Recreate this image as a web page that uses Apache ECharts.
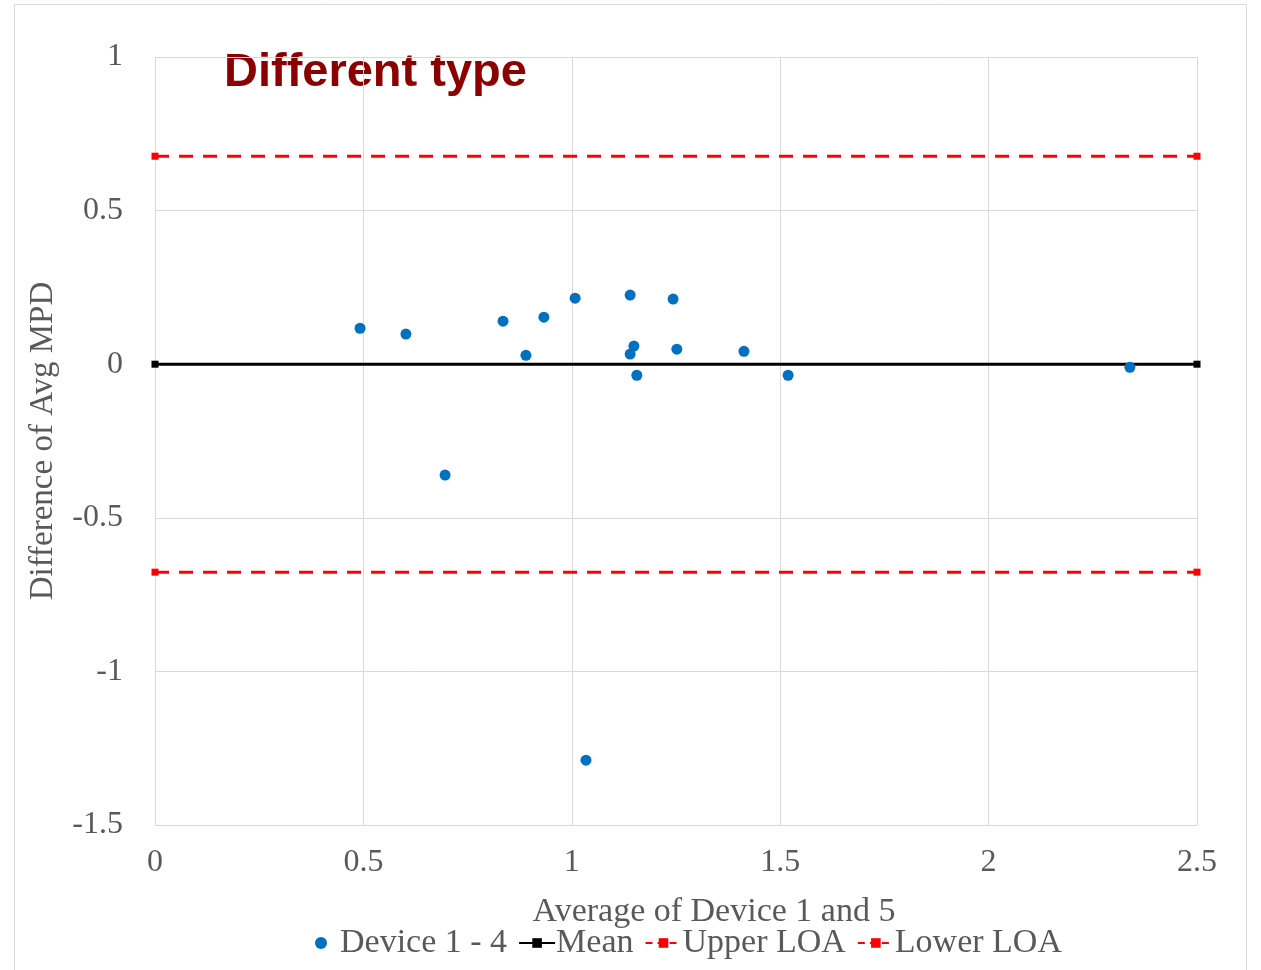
<!DOCTYPE html>
<html>
<head>
<meta charset="utf-8">
<script src="https://cdn.jsdelivr.net/npm/echarts@6/dist/echarts.min.js"></script>
<style>
  body { margin: 0; background: #fff; }
  #chart { width: 1261px; height: 970px; }
</style>
</head>
<body>
<div id="chart"></div>
<script>
// averages (x) and differences (y)
const avgValues = [0.492, 0.602, 0.696, 0.835, 0.89, 0.933, 1.008, 1.034, 1.14, 1.14, 1.149, 1.156, 1.243, 1.252, 1.413, 1.519, 2.339];
const diffValues = [0.117, 0.098, -0.361, 0.14, 0.029, 0.153, 0.215, -1.289, 0.225, 0.033, 0.059, -0.036, 0.212, 0.049, 0.042, -0.036, -0.01];
const lineX = [0, 2.5];
const meanValue = 0;
const upperLoa = 0.677;
const lowerLoa = -0.677;

const points = avgValues.map((x, i) => [x, diffValues[i]]);
const flat = v => lineX.map(x => [x, v]);

const chart = echarts.init(document.getElementById('chart'));
const serif = '"Liberation Serif", "DejaVu Serif", serif';

chart.setOption({
  animation: false,
  backgroundColor: '#fff',
  graphic: [
    { type: 'rect', shape: { x: 14.5, y: 4.5, width: 1232, height: 980 },
      style: { fill: 'none', stroke: '#d9d9d9', lineWidth: 1 } },
    { type: 'text', left: 224, top: 50,
      style: { text: 'Different type', fill: '#8b0000',
        font: 'bold 47px "Liberation Sans", Arial, sans-serif' } }
  ],
  grid: { left: 155, right: 64, top: 57, bottom: 145 },
  legend: {
    bottom: 5,
    left: 310,
    itemGap: 11,
    itemWidth: 36,
    itemHeight: 12,
    textStyle: { fontFamily: serif, fontSize: 34, color: '#595959', padding: [0, 0, 0, -4] },
    data: [
      { name: 'Device 1 - 4', icon: 'circle', itemStyle: { color: '#0070c0' } },
      'Mean',
      { name: 'Upper LOA', lineStyle: { type: [7, 5] } },
      { name: 'Lower LOA', lineStyle: { type: [7, 5] } }
    ]
  },
  xAxis: {
    type: 'value', min: 0, max: 2.5, interval: 0.5,
    name: 'Average of Device 1 and 5', nameLocation: 'middle', nameGap: 70,
    nameTextStyle: { fontFamily: serif, fontSize: 34, color: '#595959', padding: [0, 0, 0, 76] },
    axisLine: { show: false }, axisTick: { show: false },
    axisLabel: { fontFamily: serif, fontSize: 32, color: '#595959', margin: 22 },
    splitLine: { show: true, lineStyle: { color: '#d9d9d9', width: 1 } }
  },
  yAxis: {
    type: 'value', min: -1.5, max: 1, interval: 0.5,
    name: 'Difference of Avg MPD', nameLocation: 'middle', nameGap: 95,
    nameTextStyle: { fontFamily: serif, fontSize: 33, color: '#595959' },
    axisLine: { show: false }, axisTick: { show: false },
    axisLabel: { fontFamily: serif, fontSize: 32, color: '#595959', margin: 32 },
    splitLine: { show: true, lineStyle: { color: '#d9d9d9', width: 1 } }
  },
  series: [
    { name: 'Device 1 - 4', type: 'scatter', data: points, symbolSize: 11, z: 5,
      itemStyle: { color: '#0070c0', opacity: 1 } },
    { name: 'Mean', type: 'line', data: flat(meanValue), symbol: 'rect', symbolSize: 7,
      itemStyle: { color: '#000' }, lineStyle: { color: '#000', width: 3 } },
    { name: 'Upper LOA', type: 'line', data: flat(upperLoa), symbol: 'rect', symbolSize: 7,
      itemStyle: { color: '#ff0000' }, lineStyle: { color: '#ff0000', width: 3, type: [14, 10] } },
    { name: 'Lower LOA', type: 'line', data: flat(lowerLoa), symbol: 'rect', symbolSize: 7,
      itemStyle: { color: '#ff0000' }, lineStyle: { color: '#ff0000', width: 3, type: [14, 10] } }
  ]
});
</script>
</body>
</html>
